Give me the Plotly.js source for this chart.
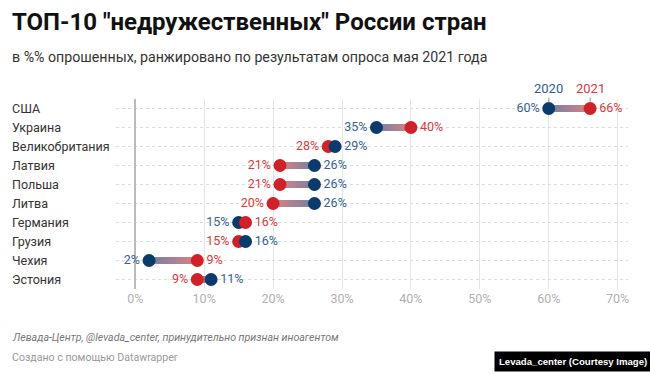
<!DOCTYPE html>
<html>
<head>
<meta charset="utf-8">
<script src="https://cdn.plot.ly/plotly-3.0.1.min.js"></script>
<style>
html,body{margin:0;padding:0;background:#fff;}
#chart{width:650px;height:374px;}
</style>
</head>
<body>
<div id="chart"></div>
<script>
const countries = ["США","Украина","Великобритания","Латвия","Польша","Литва","Германия","Грузия","Чехия","Эстония"];
const v2020 = [60,35,29,26,26,26,15,16,2,11];
const v2021 = [66,40,28,21,21,20,16,15,9,9];
const xTicks = [0,10,20,30,40,50,60,70];
const xTickLabels = ["0%","10%","20%","30%","40%","50%","60%","70%"];

const BLUE = "#0b3a6c", RED = "#cf2127";
const BLUE_T = "#365f93", RED_T = "#d93a3d";
const C_FROM = [112,128,165], C_TO = [226,128,130];

// plot box in pixels, used to place page texts
const W = 650, H = 374, ML = 116, MR = 22, MT = 99, MB = 85;
const PW = W - ML - MR, PH = H - MT - MB;
const px = x => (x - ML) / PW;
const py = y => (H - MB - y) / PH;

// gradient connector: stacked segments, each running from its start to the 2021 value
const traces = [];
const N = 20;
for (let k = 0; k < N; k++) {
  const f = (k + 0.5) / N;
  const r = Math.round(C_FROM[0] + (C_TO[0]-C_FROM[0])*f);
  const g = Math.round(C_FROM[1] + (C_TO[1]-C_FROM[1])*f);
  const b = Math.round(C_FROM[2] + (C_TO[2]-C_FROM[2])*f);
  const xs = [], ys = [];
  countries.forEach((c, i) => {
    const a = v2020[i], d = v2021[i] - v2020[i];
    xs.push(a + d*k/N, v2021[i], null);
    ys.push(c, c, null);
  });
  traces.push({type:"scatter", mode:"lines", x:xs, y:ys, hoverinfo:"skip", showlegend:false,
    line:{color:`rgb(${r},${g},${b})`, width:6}, cliponaxis:false});
}

const lx=[], ly=[], lc=[], ltc=[], lt=[];
const rx=[], ry=[], rc=[], rtc=[], rt=[];
countries.forEach((c, i) => {
  const a = v2020[i], b = v2021[i];
  const leftIs2020 = a <= b;
  const lv = leftIs2020 ? a : b, rv = leftIs2020 ? b : a;
  lx.push(lv); ly.push(c); lc.push(leftIs2020 ? BLUE : RED); ltc.push(leftIs2020 ? BLUE_T : RED_T); lt.push(lv + "%");
  rx.push(rv); ry.push(c); rc.push(leftIs2020 ? RED : BLUE); rtc.push(leftIs2020 ? RED_T : BLUE_T); rt.push(rv + "%");
});
traces.push({type:"scatter", mode:"markers+text", x:lx, y:ly, text:lt, textposition:"middle left",
  textfont:{family:"Roboto", size:12.5, color:ltc}, marker:{size:13, color:lc}, hoverinfo:"skip", showlegend:false, cliponaxis:false});
traces.push({type:"scatter", mode:"markers+text", x:rx, y:ry, text:rt, textposition:"middle right",
  textfont:{family:"Roboto", size:12.5, color:rtc}, marker:{size:13, color:rc}, hoverinfo:"skip", showlegend:false, cliponaxis:false});

const annotations = [];
countries.forEach((c, i) => {
  annotations.push({xref:"paper", yref:"y", x:px(10), y:c, text:c, showarrow:false, xanchor:"left", yanchor:"middle",
    font:{family:"Roboto", size:12.5, color:"#333"}});
});
annotations.push({x:v2020[0], y:countries[0], text:"2020", showarrow:true, arrowhead:0, arrowwidth:1, arrowcolor:"#999",
  ax:0, ay:-20, standoff:6, font:{family:"Roboto", size:13, color:"#2e5c94"}});
annotations.push({x:v2021[0], y:countries[0], text:"2021", showarrow:true, arrowhead:0, arrowwidth:1, arrowcolor:"#999",
  ax:0, ay:-20, standoff:6, font:{family:"Roboto", size:13, color:"#d93a3d"}});

annotations.push({xref:"paper", yref:"paper", x:px(10), y:py(22), xanchor:"left", yanchor:"middle",
  text:"<b>ТОП-10 \"недружественных\" России стран</b>", showarrow:false, font:{family:"Roboto", size:24, color:"#111"}});
annotations.push({xref:"paper", yref:"paper", x:px(10), y:py(57), xanchor:"left", yanchor:"middle",
  text:"в %% опрошенных, ранжировано по результатам опроса мая 2021 года", showarrow:false, font:{family:"Roboto", size:14.2, color:"#333"}});
annotations.push({xref:"paper", yref:"paper", x:px(10), y:py(337), xanchor:"left", yanchor:"middle",
  text:"<i>Левада-Центр, @levada_center, принудительно признан иноагентом</i>", showarrow:false, font:{family:"Roboto", size:10.6, color:"#777"}});
annotations.push({xref:"paper", yref:"paper", x:px(10), y:py(357), xanchor:"left", yanchor:"middle",
  text:"Создано с помощью Datawrapper", showarrow:false, font:{family:"Roboto", size:10.6, color:"#999"}});
annotations.push({xref:"paper", yref:"paper", x:px(652), y:py(361.5), xanchor:"right", yanchor:"middle",
  text:"<b>Levada_center (Courtesy Image)</b>", showarrow:false, bgcolor:"#000", borderpad:4,
  font:{family:"Liberation Sans", size:9.6, color:"#fff"}});

const layout = {
  width:W, height:H,
  margin:{l:ML, r:MR, t:MT, b:MB},
  paper_bgcolor:"#fff", plot_bgcolor:"#fff",
  showlegend:false,
  xaxis:{range:[-2.8,71.5], tickvals:xTicks, ticktext:xTickLabels, showgrid:true, gridcolor:"#e6e6e6", gridwidth:1,
    zeroline:true, zerolinecolor:"#bbbbbb", zerolinewidth:2, showline:false, ticks:"",
    tickfont:{family:"Roboto", size:12.5, color:"#b0b0b0"}, fixedrange:true},
  yaxis:{type:"category", categoryorder:"array", categoryarray:countries, range:[9.5,-0.5],
    showgrid:true, gridcolor:"#dcdcdc", griddash:"dot", gridwidth:1, showticklabels:false, zeroline:false, showline:false, ticks:"", fixedrange:true},
  annotations:annotations,
  font:{family:"Roboto"}
};

Plotly.newPlot("chart", traces, layout, {displayModeBar:false, staticPlot:true});
</script>
</body>
</html>
